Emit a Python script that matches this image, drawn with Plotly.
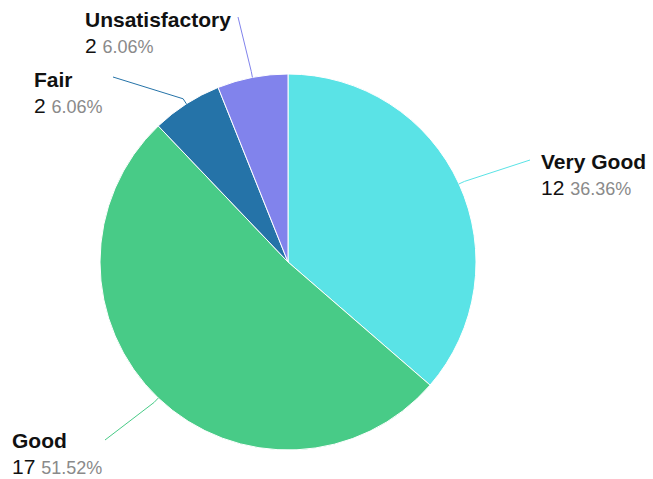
import math
import plotly.graph_objects as go

# Ratings data
categories = ["Very Good", "Good", "Fair", "Unsatisfactory"]
counts = [12, 17, 2, 2]
colors = ["#5AE3E6", "#48CB87", "#2573A8", "#8183EC"]

W, H = 653, 479
CX, CY, R = 288, 262, 188  # pie centre and radius in pixels

# Label placement (left edge x, y of the name line, leader line end point)
label_layout = {
    "Very Good": dict(x=539, y=161, end=(530, 160)),
    "Good": dict(x=10, y=440, end=(105, 440)),
    "Fair": dict(x=32, y=79, end=(113, 77)),
    "Unsatisfactory": dict(x=83, y=19, end=(238, 17)),
}


def px(x):
    return x / W


def py(y):
    return 1 - y / H


fig = go.Figure(
    go.Pie(
        labels=categories,
        values=counts,
        sort=False,
        direction="clockwise",
        rotation=0,
        textinfo="none",
        hoverinfo="label+value+percent",
        marker=dict(colors=colors, line=dict(color="white", width=1)),
        domain=dict(x=[px(CX - R), px(CX + R)], y=[py(CY + R), py(CY - R)]),
        showlegend=False,
    )
)

total = sum(counts)
annotations = []
shapes = []
cum = 0
for name, val, col in zip(categories, counts, colors):
    mid = (cum + val / 2) / total * 2 * math.pi
    cum += val
    sx = CX + R * math.sin(mid)
    sy = CY - R * math.cos(mid)
    kx = CX + (R + 6) * math.sin(mid)
    ky = CY - (R + 6) * math.cos(mid)
    lay = label_layout[name]
    ex, ey = lay["end"]
    shapes.append(
        dict(
            type="path",
            xref="paper",
            yref="paper",
            path=f"M {px(sx)} {py(sy)} L {px(kx)} {py(ky)} L {px(ex)} {py(ey)}",
            line=dict(color=col, width=1),
        )
    )
    pct = val / total * 100
    annotations.append(
        dict(
            x=px(lay["x"]), y=py(lay["y"]), xref="paper", yref="paper",
            xanchor="left", yanchor="middle", showarrow=False,
            text=f"<b>{name}</b>",
            font=dict(family="Liberation Sans, Arial, sans-serif", size=21, color="#111111"),
        )
    )
    annotations.append(
        dict(
            x=px(lay["x"]), y=py(lay["y"] + 26), xref="paper", yref="paper",
            xanchor="left", yanchor="middle", showarrow=False,
            text=f"{val} <span style='color:#8a8a8a;font-size:18px'>{pct:.2f}%</span>",
            font=dict(family="Liberation Sans, Arial, sans-serif", size=21, color="#111111"),
        )
    )

fig.update_layout(
    width=W,
    height=H,
    margin=dict(l=0, r=0, t=0, b=0),
    paper_bgcolor="white",
    plot_bgcolor="white",
    annotations=annotations,
    shapes=shapes,
)

fig.write_html("out.html")
